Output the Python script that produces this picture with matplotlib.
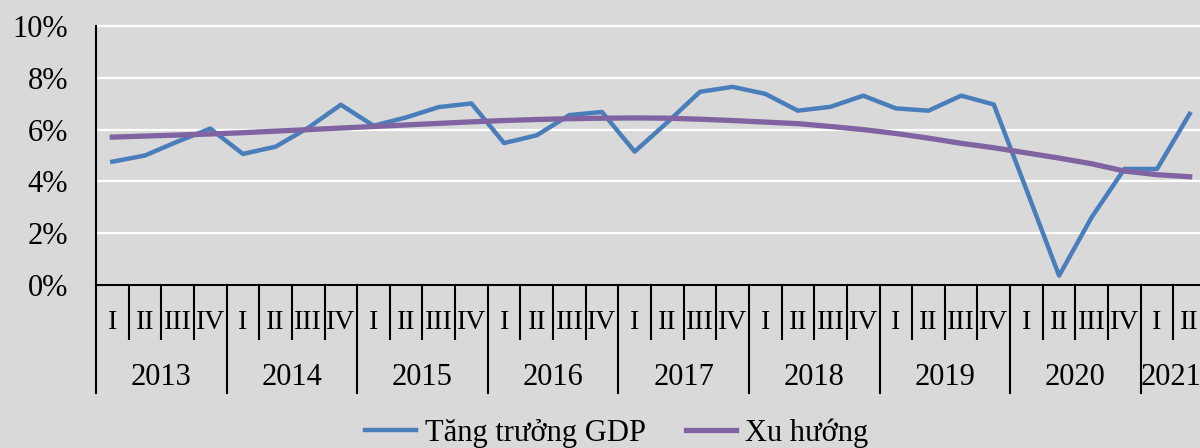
import matplotlib
matplotlib.use('Agg')
import matplotlib.pyplot as plt
import numpy as np

plt.rcParams['font.family'] = ['Liberation Serif', 'DejaVu Serif']

years = ['2013', '2014', '2015', '2016', '2017', '2018', '2019', '2020', '2021']
quarters = ['I', 'II', 'III', 'IV']

# GDP growth by quarter, 2013 Q1 .. 2021 Q2 (%)
gdp = [4.76, 5.00, 5.54, 6.04,
       5.06, 5.34, 6.07, 6.96,
       6.15, 6.47, 6.87, 7.01,
       5.48, 5.78, 6.56, 6.68,
       5.15, 6.28, 7.46, 7.65,
       7.38, 6.73, 6.88, 7.31,
       6.82, 6.73, 7.31, 6.97,
       3.68, 0.36, 2.62, 4.48,
       4.48, 6.61]

# trend line (%)
trend = [5.71, 5.75, 5.79, 5.83,
         5.88, 5.94, 6.00, 6.06,
         6.12, 6.18, 6.24, 6.30,
         6.35, 6.39, 6.42, 6.44,
         6.45, 6.44, 6.40, 6.35,
         6.29, 6.23, 6.12, 6.00,
         5.85, 5.67, 5.47, 5.30,
         5.10, 4.90, 4.68, 4.40,
         4.26, 4.18]

bg = '#d9d9d9'
W, H = 1200, 448
fig = plt.figure(figsize=(12, 4.48), dpi=100, facecolor=bg)
ax = fig.add_axes([96 / W, (H - 285) / H, 1110 / W, (285 - 26) / H])
ax.set_facecolor(bg)

n = len(gdp)
x = np.arange(n) + 0.5

for g in range(0, 11, 2):
    ax.axhline(g, color='white', lw=1.6, zorder=1, clip_on=False)

ax.plot(x, gdp, color='#4a7ebb', lw=3.2, zorder=3, solid_joinstyle='round',
        label='Tăng trưởng GDP')
ax.plot(x, trend, color='#8064a2', lw=3.8, zorder=4, label='Xu hướng')

ax.set_xlim(0, n)
ax.set_ylim(0, 10)
ax.set_yticks(range(0, 11, 2))
ax.set_yticklabels([f'{v}%' for v in range(0, 11, 2)])
ax.tick_params(axis='y', length=0, pad=20, labelsize=22)
ax.set_xticks([])

for s in ['top', 'right']:
    ax.spines[s].set_visible(False)
for s in ['left', 'bottom']:
    ax.spines[s].set_color('black')
    ax.spines[s].set_linewidth(1.5)
    ax.spines[s].set_zorder(5)

# two-level category axis
tr = ax.get_xaxis_transform()
axh = 285 - 26
short = -54 / axh
long_ = -108 / axh
for k in range(0, n):
    y1 = long_ if k % 4 == 0 else short
    ax.plot([k, k], [0, y1], color='black', lw=1.5, transform=tr, clip_on=False)

for i in range(n):
    ax.text(i + 0.5, -37 / axh, quarters[i % 4], transform=tr,
            ha='center', va='center', fontsize=20)

for j, yr in enumerate(years):
    span = min(4, n - 4 * j)
    xc = 4 * j + span / 2
    if span < 4:
        xc -= 0.08
    ax.text(xc, -92 / axh, yr, transform=tr,
            ha='center', va='center', fontsize=22)

fig.legend(loc='center', bbox_to_anchor=(617 / W, 1 - 433 / H), ncol=2,
           frameon=False, fontsize=22, handlelength=1.65, handletextpad=0.3,
           columnspacing=1.3)

fig.savefig('out.png', dpi=100, facecolor=bg)
